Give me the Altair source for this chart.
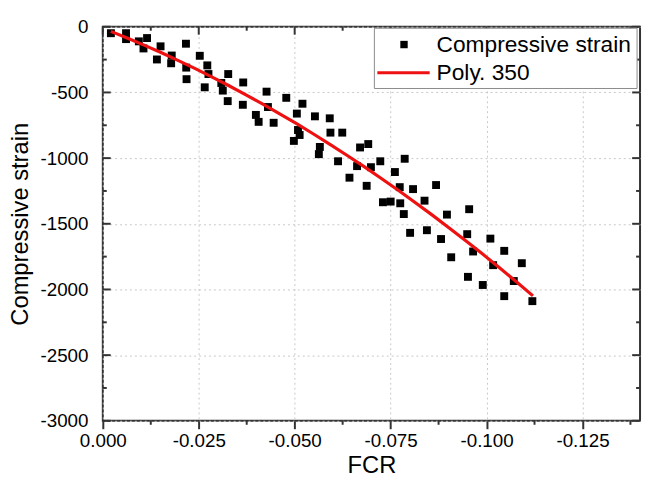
import altair as alt
import pandas as pd

# ---- data ----
fcr = [-0.00211, -0.00605, -0.00605, -0.00939, -0.01153, -0.01060, -0.01505, -0.01410,
       -0.01796, -0.01781, -0.02167, -0.02174, -0.02182, -0.02527, -0.02723, -0.02753,
       -0.02656, -0.03088, -0.03127, -0.03268, -0.03255, -0.03659, -0.03649, -0.03989,
       -0.04061, -0.04267, -0.04303, -0.04452, -0.04781, -0.05057, -0.05203, -0.05087,
       -0.05129, -0.04979, -0.05528, -0.05914, -0.05932, -0.06240, -0.05656, -0.05630,
       -0.06130, -0.06428, -0.06626, -0.06704, -0.06917, -0.06987, -0.07231, -0.06876,
       -0.07867, -0.07612, -0.07738, -0.08085, -0.07301, -0.07501, -0.07751, -0.07844,
       -0.08384, -0.08685, -0.08968, -0.08008, -0.08446, -0.08814, -0.09547, -0.09496,
       -0.09079, -0.09650, -0.10100, -0.10461, -0.10172, -0.10919, -0.09516, -0.09902,
       -0.10710, -0.10461, -0.11194]
strain = [-49, -49, -94, -111, -86, -165, -149, -249,
          -219, -278, -129, -311, -399, -221, -294, -360,
          -461, -428, -486, -360, -566, -424, -594, -671,
          -724, -494, -611, -731, -541, -661, -586, -786,
          -824, -869, -682, -697, -806, -806, -915, -970,
          -1024, -1149, -1061, -919, -893, -1069, -1024, -1211,
          -1005, -1106, -1221, -1236, -1336, -1331, -1344, -1426,
          -1324, -1205, -1430, -1569, -1549, -1616, -1389, -1579,
          -1755, -1711, -1613, -1706, -1815, -1800, -1904, -1966,
          -1936, -2051, -2089]

fit_extent = [-0.1121, -0.0021]
x_major = [0, -0.025, -0.05, -0.075, -0.1, -0.125]
x_minor = [-0.0125, -0.0375, -0.0625, -0.0875, -0.1125, -0.1375]
y_major = [0, -500, -1000, -1500, -2000, -2500, -3000]
y_minor = [-250, -750, -1250, -1750, -2250, -2750]
legend_labels = ["Compressive strain", "Poly. 350"]
x_title = "FCR"
y_title = "Compressive strain"

# ---- layout / style ----
W, H = 544, 399
FONT = "Liberation Sans"
AX = "#333333"

df = pd.DataFrame({"FCR": fcr, "strain": strain})
xs = alt.Scale(domain=[-0.14, 0], reverse=True, nice=False, zero=False)
ys = alt.Scale(domain=[-3000, 0], nice=False, zero=False)

x_axis = alt.Axis(values=x_major, title=x_title, grid=True, gridDash=[2, 3],
                  gridColor="#c8c8c8", gridWidth=1, domain=False,
                  tickSize=8, tickWidth=2, tickColor=AX,
                  labelExpr="(datum.value < 0 ? '-' : '') + format(abs(datum.value), '.3f')",
                  labelAlign="center", labelFlush=False, labelBaseline="top",
                  labelFont=FONT, labelFontSize=19, labelColor="black", labelPadding=3,
                  titleFont=FONT, titleFontSize=24, titleFontWeight="normal",
                  titleColor="black", titlePadding=3)
y_axis = alt.Axis(values=y_major, title=y_title, grid=True, gridDash=[2, 3],
                  gridColor="#c8c8c8", gridWidth=1, domain=False, ticks=False,
                  labelExpr="(datum.value < 0 ? '-' : '') + format(abs(datum.value), 'd')",
                  labelFlush=False, labelBaseline="middle",
                  labelFont=FONT, labelFontSize=19, labelColor="black", labelPadding=15,
                  titleFont=FONT, titleFontSize=24, titleFontWeight="normal",
                  titleColor="black", titlePadding=8)

base = alt.Chart(df)
scatter = base.mark_square(size=64, color="black", opacity=1).encode(
    x=alt.X("FCR:Q", scale=xs, axis=x_axis),
    y=alt.Y("strain:Q", scale=ys, axis=y_axis),
)
fit = base.transform_regression(
    "FCR", "strain", method="poly", order=2, extent=fit_extent
).mark_line(color="#ee1111", strokeWidth=3.2).encode(
    x=alt.X("FCR:Q", scale=xs, axis=x_axis),
    y=alt.Y("strain:Q", scale=ys, axis=y_axis),
)


def xrules(vals, y0, y1):
    return alt.Chart(pd.DataFrame({"FCR": vals})).mark_rule(color=AX, strokeWidth=2).encode(
        x=alt.X("FCR:Q", scale=xs, axis=x_axis), y=alt.value(y0), y2=alt.value(y1))


def yrules(vals, x0, x1):
    return alt.Chart(pd.DataFrame({"strain": vals})).mark_rule(color=AX, strokeWidth=2).encode(
        y=alt.Y("strain:Q", scale=ys, axis=y_axis), x=alt.value(x0), x2=alt.value(x1))


ticks = [
    xrules(x_minor, H, H + 4),      # bottom minor, outward
    xrules(x_major, 0, 8),          # top major, inward
    xrules(x_minor, 0, 4),          # top minor, inward
    yrules(y_major, 0, 8),          # left major, inward
    yrules(y_minor, 0, 4),          # left minor, inward
    yrules(y_major, W - 8, W),      # right major, inward
    yrules(y_minor, W - 4, W),      # right minor, inward
]

one = pd.DataFrame({"k": [0]})
leg_box = alt.Chart(one).mark_rect(fill="white", stroke="#8a8a8a", strokeWidth=1).encode(
    x=alt.value(275), x2=alt.value(541), y=alt.value(1.5), y2=alt.value(62.5))
leg_sq = alt.Chart(one).mark_square(size=56, color="black", opacity=1).encode(
    x=alt.value(305), y=alt.value(18))
leg_line = alt.Chart(one).mark_rule(color="#ee1111", strokeWidth=3).encode(
    x=alt.value(278), x2=alt.value(331), y=alt.value(46.5))
leg_t1 = alt.Chart(one).mark_text(align="left", baseline="middle", font=FONT, fontSize=23,
                                  color="black", text=legend_labels[0]).encode(
    x=alt.value(338), y=alt.value(18.5))
leg_t2 = alt.Chart(one).mark_text(align="left", baseline="middle", font=FONT, fontSize=23,
                                  color="black", text=legend_labels[1]).encode(
    x=alt.value(338), y=alt.value(46.5))

chart = alt.layer(
    scatter, fit, *ticks, leg_box, leg_sq, leg_line, leg_t1, leg_t2
).properties(
    width=W, height=H, autosize="none",
    padding={"left": 96, "top": 16, "right": 3, "bottom": 62},
    background="white",
).configure_view(stroke=AX, strokeWidth=2)

chart.save("out.html", embed_options={"renderer": "svg", "actions": False})
